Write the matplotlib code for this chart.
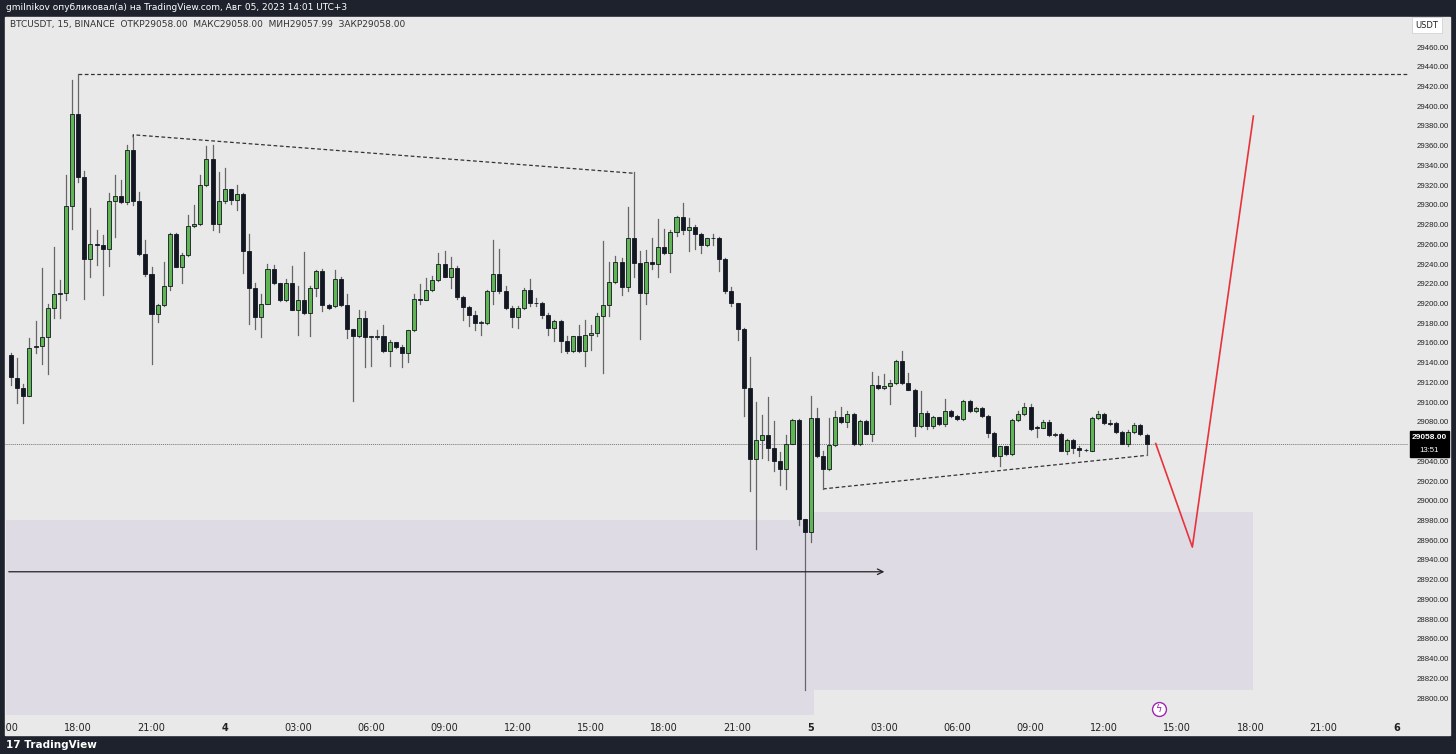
import matplotlib
matplotlib.use("Agg")
import matplotlib.pyplot as plt
from matplotlib.patches import Rectangle

# ---- data (15-min BTCUSDT candles, first candle = Aug 3 15:15) ----
opens = [29148,29124,29114,29106,29156,29157,29166,29195,29210,29211,29299,29392,29328,29245,29260,29259,29255,29304,29309,29303,
 29356,29304,29250,29230,29189,29198,29218,29270,29237,29249,29279,29281,29320,29346,29281,29304,29316,29305,29311,29253,
 29216,29186,29199,29235,29221,29204,29221,29193,29204,29190,29216,29233,29198,29197,29225,29198,29174,29167,29185,29166,
 29166,29167,29152,29161,29156,29150,29173,29205,29204,29214,29224,29240,29227,29236,29207,29196,29188,29180,29180,29213,
 29230,29213,29195,29186,29195,29214,29200,29200,29188,29175,29182,29162,29152,29167,29152,29168,29170,29187,29198,29222,
 29242,29217,29266,29241,29211,29242,29240,29257,29251,29272,29288,29274,29278,29270,29259,29266,29266,29245,29213,29200,
 29174,29114,29042,29062,29067,29053,29040,29032,29058,29082,28981,28968,29084,29045,29032,29057,29085,29080,29088,29058,
 29081,29068,29117,29114,29116,29119,29142,29119,29112,29076,29089,29076,29085,29078,29091,29086,29083,29101,29091,29094,
 29086,29069,29045,29055,29047,29082,29088,29095,29075,29074,29080,29067,29068,29050,29062,29053,29051,29050,29084,29088,
 29079,29079,29070,29058,29070,29077,29067]
closes = [29125,29114,29106,29155,29157,29166,29195,29210,29211,29299,29392,29328,29245,29260,29259,29255,29304,29309,29303,29356,
 29304,29250,29230,29189,29198,29218,29270,29237,29249,29279,29281,29320,29346,29281,29304,29316,29305,29311,29253,29216,
 29186,29199,29235,29221,29204,29221,29193,29204,29190,29216,29233,29198,29195,29225,29198,29174,29167,29185,29166,29166,
 29167,29152,29161,29156,29150,29173,29205,29204,29214,29224,29240,29227,29236,29207,29196,29188,29180,29180,29213,29230,
 29213,29195,29186,29195,29214,29200,29200,29188,29175,29182,29162,29152,29167,29152,29168,29170,29187,29198,29222,29242,
 29217,29266,29241,29211,29242,29240,29257,29251,29272,29288,29274,29278,29270,29259,29266,29266,29245,29213,29200,29174,
 29114,29042,29062,29067,29053,29040,29032,29058,29082,28981,28968,29084,29045,29032,29057,29085,29080,29088,29058,29081,
 29068,29117,29114,29116,29119,29142,29119,29112,29076,29089,29076,29085,29078,29091,29086,29083,29101,29091,29094,29086,
 29069,29045,29055,29047,29082,29088,29095,29073,29074,29080,29067,29068,29050,29062,29053,29051,29051,29084,29088,29079,
 29078,29070,29058,29070,29077,29068,29058]
highs = [29150,29145,29118,29165,29182,29236,29199,29257,29224,29330,29427,29433,29334,29297,29274,29269,29312,29330,29325,29361,
 29368,29313,29264,29237,29199,29242,29271,29271,29251,29290,29300,29330,29360,29361,29333,29337,29316,29320,29312,29270,
 29221,29210,29240,29239,29221,29225,29238,29218,29252,29218,29234,29235,29199,29234,29227,29210,29174,29193,29192,29167,
 29173,29178,29163,29161,29158,29173,29210,29220,29226,29228,29251,29253,29247,29238,29208,29197,29192,29182,29214,29264,
 29255,29218,29197,29197,29216,29225,29206,29201,29190,29183,29183,29167,29167,29178,29183,29178,29190,29263,29242,29248,
 29246,29298,29333,29253,29254,29266,29286,29275,29274,29289,29302,29287,29280,29271,29266,29270,29267,29246,29217,29200,
 29175,29146,29100,29087,29105,29081,29049,29067,29083,29083,28981,29106,29094,29050,29084,29091,29095,29091,29089,29082,
 29082,29131,29126,29128,29122,29143,29152,29130,29113,29111,29091,29086,29085,29103,29092,29087,29102,29102,29095,29095,
 29087,29070,29056,29056,29083,29091,29099,29098,29076,29082,29082,29069,29069,29063,29063,29055,29052,29085,29091,29089,
 29082,29080,29071,29072,29079,29078,29068]
lows = [29117,29099,29079,29106,29150,29139,29128,29185,29185,29204,29275,29323,29205,29227,29239,29209,29238,29267,29302,29301,
 29300,29249,29228,29139,29181,29197,29214,29237,29221,29248,29278,29280,29319,29274,29272,29302,29301,29295,29231,29179,
 29174,29166,29199,29220,29203,29203,29193,29168,29189,29167,29208,29192,29194,29196,29197,29165,29101,29166,29136,29137,
 29164,29151,29137,29155,29136,29141,29172,29199,29204,29213,29223,29227,29216,29205,29183,29177,29173,29168,29179,29199,
 29211,29194,29176,29175,29194,29197,29197,29185,29168,29162,29151,29150,29151,29151,29137,29153,29167,29130,29187,29221,
 29209,29213,29227,29164,29199,29235,29227,29250,29232,29268,29270,29253,29255,29251,29258,29259,29233,29211,29197,29163,
 29086,29010,28951,29043,29041,29030,29016,29012,29058,28975,28808,28958,29044,29012,29031,29056,29079,29075,29057,29057,
 29068,29061,29113,29113,29098,29118,29118,29112,29066,29075,29073,29074,29077,29076,29085,29082,29082,29090,29090,29085,
 29065,29044,29035,29046,29046,29081,29087,29072,29065,29074,29066,29066,29050,29047,29048,29045,29050,29050,29083,29078,
 29077,29069,29058,29055,29069,29067,29046]
tick_labels = ["15:00","18:00","21:00","4","03:00","06:00","09:00","12:00","15:00","18:00","21:00",
               "5","03:00","06:00","09:00","12:00","15:00","18:00","21:00","6"]
price_ticks = list(range(28800, 29461, 20))
last_price = 29058
forecast_x = [187.5, 193.5, 203.5]
forecast_y = [29058, 28953, 29390]

BG = "#e9e9e9"; DARK = "#1e222d"
NARROW = "Liberation Sans"
fig = plt.figure(figsize=(14.56, 7.54), dpi=100, facecolor=DARK)
W, H = 1456, 754
def fr(x0, y0, x1, y1):
    return [x0/W, 1-y1/H, (x1-x0)/W, (y1-y0)/H]

fig.patches.append(Rectangle((5/W, 1-735/H), (1450-5)/W, (735-17)/H, transform=fig.transFigure,
                             color=BG, zorder=-5))
ax = fig.add_axes(fr(5, 17, 1408, 715))
ax.set_facecolor(BG)
PX = 6.109
xmin, xmax = 11 - 72.3/PX, 11 + (1408-77.3)/PX
ymax = 29460 + (47-17)/0.9864
ymin = 29460 - (715-47)/0.9864
ax.set_xlim(xmin, xmax); ax.set_ylim(ymin, ymax)
for s in ax.spines.values(): s.set_visible(False)

ax.add_patch(Rectangle((xmin, ymin), 131.5-xmin, 28980-ymin, color="#dedbe5", zorder=1, lw=0))
ax.add_patch(Rectangle((131.5, 28808), 203.5-131.5, 28989-28808, color="#dedbe5", zorder=1, lw=0))

GREEN = "#5fb552"; BLACK = "#131722"
for i, (o, h, l, c) in enumerate(zip(opens, highs, lows, closes)):
    ax.plot([i, i], [l, h], color="#666666", lw=0.9, zorder=3)
    col = GREEN if c >= o else BLACK
    ax.add_patch(Rectangle((i-0.33, min(o, c)), 0.66, max(abs(c-o), 0.8), facecolor=col,
                           edgecolor=BLACK, lw=0.6, zorder=4))

ax.plot([11, xmax], [highs[11], highs[11]], ls=(0, (3, 2)), color="#333333", lw=0.9, zorder=2)
ax.plot([20, 20, 102, 102], [highs[20], 29371, 29332, highs[102]], ls=(0, (3, 2)), color="#333333", lw=0.9, zorder=2)
ax.plot([133, 133, 186, 186], [lows[133], 29012, 29046, lows[186]], ls=(0, (3, 2)), color="#333333", lw=0.9, zorder=2)
ax.axhline(last_price, color="#777777", lw=0.7, ls=(0, (1, 1)), zorder=2)
ax.annotate("", xy=(143.5, 28928), xytext=(xmin, 28928),
            arrowprops=dict(arrowstyle="->", color="#222222", lw=0.9), zorder=5)
ax.plot(forecast_x, forecast_y, color="#e8323c", lw=1.2, zorder=5)
ax.plot([188.0], [ymin + 6], marker="o", ms=10, mfc="white", mec="#9c27b0", mew=1, zorder=6, clip_on=False)
ax.text(188.0, ymin + 6, "ϟ", color="#9c27b0", ha="center", va="center", fontsize=7, zorder=7)

ax.set_xticks([11 + 12*k for k in range(-1, 19)])
ax.set_xticklabels(tick_labels)
for t, lab in zip(ax.get_xticklabels(), tick_labels):
    t.set_fontsize(7); t.set_color("#222222")
    if lab in ("4", "5", "6"): t.set_fontweight("bold")
ax.tick_params(axis="x", length=0, pad=6)
ax.yaxis.tick_right()
ax.set_yticks(price_ticks)
ax.set_yticklabels(["" if p == 29060 else f"{p:.2f}" for p in price_ticks], fontfamily=NARROW)
ax.tick_params(axis="y", length=0, labelsize=5.6, labelcolor="#222222", pad=6)

yfrac = (last_price-ymin)/(ymax-ymin)
ax.add_patch(Rectangle((1.0015, yfrac-0.019), 0.0275, 0.037, transform=ax.transAxes, color="black",
                       clip_on=False, zorder=8))
ax.text(1.0153, yfrac+0.008, "29058.00", transform=ax.transAxes, fontsize=6, color="white",
        fontweight="bold", va="center", ha="center", zorder=9, fontfamily=NARROW)
ax.text(1.0153, yfrac-0.010, "13:51", transform=ax.transAxes, fontsize=5.6, color="white",
        va="center", ha="center", zorder=9, fontfamily=NARROW)
fig.text(1427/W, 1-25/H, "USDT", fontsize=6, color="#222222", ha="center", va="center",
         bbox=dict(boxstyle="square,pad=0.4", fc="white", ec="#cccccc", lw=0.5))

fig.text(6/W, 1-8/H, "gmilnikov опубликовал(а) на TradingView.com, Авг 05, 2023 14:01 UTC+3",
         fontsize=6.5, color="white", va="center")
fig.text(10/W, 1-24/H, "BTCUSDT, 15, BINANCE  ОТКР29058.00  МАКС29058.00  МИН29057.99  ЗАКР29058.00",
         fontsize=6.5, color="#333333", va="center")
fig.text(6/W, 1-745/H, "17 TradingView", fontsize=7.5, color="white", va="center", fontweight="bold")

fig.savefig("out.png", dpi=100, facecolor=DARK)
